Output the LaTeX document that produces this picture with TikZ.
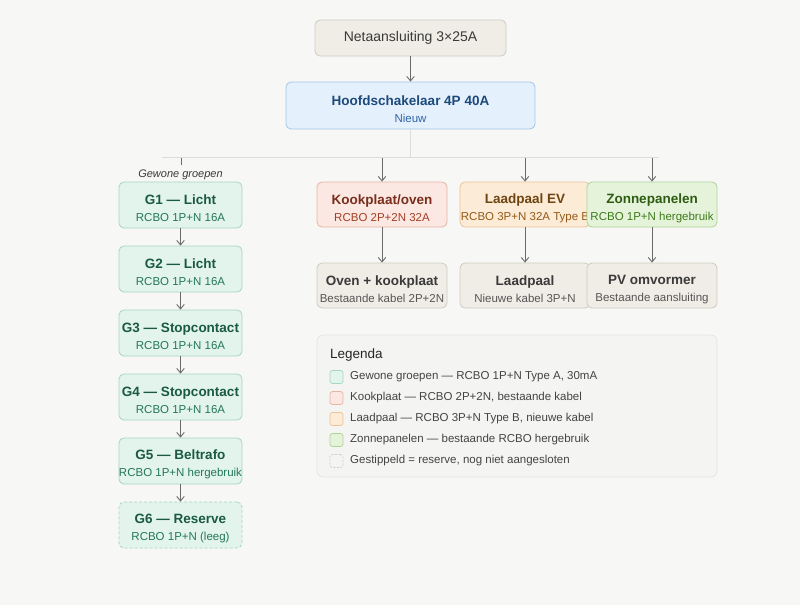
\documentclass[tikz,border=0pt]{standalone}
\usepackage{fontspec}
\setmainfont{Liberation Sans}
\usetikzlibrary{arrows.meta}
\definecolor{bg}{HTML}{F7F7F5}
\definecolor{grayfill}{HTML}{F0EDE6}
\definecolor{graydraw}{HTML}{CFCBC2}
\definecolor{graytext}{HTML}{3A3A3A}
\definecolor{graysub}{HTML}{555555}
\definecolor{bluefill}{HTML}{E4F0FB}
\definecolor{bluedraw}{HTML}{A3C6E8}
\definecolor{bluetext}{HTML}{1D4A7C}
\definecolor{bluesub}{HTML}{2E64A6}
\definecolor{grnfill}{HTML}{E2F4EC}
\definecolor{grndraw}{HTML}{A6D6C0}
\definecolor{grntext}{HTML}{1B5A42}
\definecolor{grnsub}{HTML}{23775A}
\definecolor{redfill}{HTML}{FBE8E3}
\definecolor{reddraw}{HTML}{E9B3A5}
\definecolor{redtext}{HTML}{7A2E1C}
\definecolor{redsub}{HTML}{A53E24}
\definecolor{orgfill}{HTML}{FCEBD7}
\definecolor{orgdraw}{HTML}{EBC397}
\definecolor{orgtext}{HTML}{6E4512}
\definecolor{orgsub}{HTML}{955A15}
\definecolor{limfill}{HTML}{E6F3DB}
\definecolor{limdraw}{HTML}{ACD495}
\definecolor{limtext}{HTML}{2E5C12}
\definecolor{limsub}{HTML}{3C7A19}
\definecolor{arrowc}{HTML}{6B6B6B}
\definecolor{busc}{HTML}{DCDCDA}
\definecolor{legfill}{HTML}{F4F4F2}
\definecolor{legdraw}{HTML}{E4E4E1}
\newcommand\ttl[1]{{\fontsize{13.5}{17}\selectfont\bfseries\rule{0pt}{16.5pt}#1}}
\newcommand\sbt[1]{{\fontsize{11.5}{17}\selectfont #1}}
\begin{document}
\begin{tikzpicture}[x=1pt,y=-1pt,
  box/.style={rounded corners=5pt, line width=0.8pt, align=center, inner sep=0pt,
    font=\fontsize{12}{17}\selectfont},
  gbox/.style={box, fill=grnfill, draw=grndraw, minimum width=123, minimum height=46},
  gray/.style={box, fill=grayfill, draw=graydraw},
  arr/.style={draw=arrowc, line width=0.9pt, -{Straight Barb[length=4.5pt,width=7.5pt]}},
  bus/.style={draw=busc, line width=1.6pt},
  sw/.style={rounded corners=2.5pt, line width=0.7pt, minimum width=13, minimum height=13, inner sep=0pt},
  legtxt/.style={anchor=west, font=\fontsize{11.5}{14}\selectfont, text=graysub!80!black, inner sep=0pt}
]
\fill[bg] (0,0) rectangle (800,605);
\useasboundingbox (0,0) rectangle (800,605);

% top
\node[gray, minimum width=191, minimum height=36] (net) at (410.5,38)
  {\textcolor{graytext}{{\fontsize{14}{17}\selectfont Netaansluiting 3×25A}}};
\node[box, fill=bluefill, draw=bluedraw, minimum width=249, minimum height=47] (hoofd) at (410.5,105.5)
  {\textcolor{bluetext}{\ttl{Hoofdschakelaar 4P 40A}}\\\textcolor{bluesub}{\sbt{Nieuw}}};
\draw[arr] (net) -- (hoofd);

% busbar
\coordinate (busL) at (162,157.5);
\coordinate (busR) at (659,157.5);
\draw[bus] (busL) -- (busR);
\draw[bus, line width=1pt] (hoofd.south) -- (hoofd.south |- busL);

% group column
\node[gbox] (g1) at (180.5,205) {\textcolor{grntext}{\ttl{G1 — Licht}}\\\textcolor{grnsub}{\sbt{RCBO 1P+N 16A}}};
\node[gbox] (g2) at (180.5,269) {\textcolor{grntext}{\ttl{G2 — Licht}}\\\textcolor{grnsub}{\sbt{RCBO 1P+N 16A}}};
\node[gbox] (g3) at (180.5,333) {\textcolor{grntext}{\ttl{G3 — Stopcontact}}\\\textcolor{grnsub}{\sbt{RCBO 1P+N 16A}}};
\node[gbox] (g4) at (180.5,397) {\textcolor{grntext}{\ttl{G4 — Stopcontact}}\\\textcolor{grnsub}{\sbt{RCBO 1P+N 16A}}};
\node[gbox] (g5) at (180.5,461) {\textcolor{grntext}{\ttl{G5 — Beltrafo}}\\\textcolor{grnsub}{\sbt{RCBO 1P+N hergebruik}}};
\node[gbox, dashed, dash pattern=on 3pt off 2pt] (g6) at (180.5,525) {\textcolor{grntext}{\ttl{G6 — Reserve}}\\\textcolor{grnsub}{\sbt{RCBO 1P+N (leeg)}}};
\foreach \a/\b in {g1/g2,g2/g3,g3/g4,g4/g5,g5/g6} \draw[arr] (\a) -- (\b);

\coordinate (tickT) at (181,158);
\coordinate (tickB) at (181,165);
\draw[draw=arrowc, line width=0.9pt] (tickT) -- (tickB);
\node[font=\fontsize{11}{13}\selectfont\itshape, text=graytext, inner sep=0pt] (gewone) at (180.5,175) {Gewone groepen};

% special circuits
\node[box, fill=redfill, draw=reddraw, minimum width=130, minimum height=45] (kook) at (382,204.5)
  {\textcolor{redtext}{\ttl{Kookplaat/oven}}\\\textcolor{redsub}{\sbt{RCBO 2P+2N 32A}}};
\node[box, fill=orgfill, draw=orgdraw, minimum width=130, minimum height=45] (laad) at (525,204.5)
  {\textcolor{orgtext}{\ttl{Laadpaal EV}}\\\textcolor{orgsub}{\sbt{RCBO 3P+N 32A Type B}}};
\node[box, fill=limfill, draw=limdraw, minimum width=130, minimum height=45] (zon) at (652,204.5)
  {\textcolor{limtext}{\ttl{Zonnepanelen}}\\\textcolor{limsub}{\sbt{RCBO 1P+N hergebruik}}};

\draw[arr] (kook.north |- busL) -- (kook.north);
\draw[arr] (laad.north |- busL) -- (laad.north);
\draw[arr] (zon.north |- busL) -- (zon.north);

\node[gray, minimum width=130, minimum height=45] (oven) at (382,285.5)
  {\textcolor{graytext}{\ttl{Oven + kookplaat}}\\\textcolor{graysub}{\sbt{Bestaande kabel 2P+2N}}};
\node[gray, minimum width=130, minimum height=45] (lp) at (525,285.5)
  {\textcolor{graytext}{\ttl{Laadpaal}}\\\textcolor{graysub}{\sbt{Nieuwe kabel 3P+N}}};
\node[gray, minimum width=130, minimum height=45] (pv) at (652,285.5)
  {\textcolor{graytext}{\ttl{PV omvormer}}\\\textcolor{graysub}{\sbt{Bestaande aansluiting}}};
\draw[arr] (kook) -- (oven);
\draw[arr] (laad) -- (lp);
\draw[arr] (zon) -- (pv);

% legend
\node[rounded corners=6pt, fill=legfill, draw=legdraw, line width=0.7pt, minimum width=400, minimum height=142, inner sep=0pt] (leg) at (517,406) {};
\node[anchor=west, inner sep=0pt, font=\fontsize{13.5}{16}\selectfont, text=black!85] (legt) at (330,355) {Legenda};
\node[sw, fill=grnfill, draw=grndraw] (s1) at (336.5,377) {};
\node[sw, fill=redfill, draw=reddraw] (s2) at (336.5,398) {};
\node[sw, fill=orgfill, draw=orgdraw] (s3) at (336.5,419) {};
\node[sw, fill=limfill, draw=limdraw] (s4) at (336.5,440) {};
\node[sw, fill=legfill, draw=legdraw!90!black, dashed, dash pattern=on 2pt off 1.5pt] (s5) at (336.5,461) {};
\node[legtxt] (l1) at (350,377) {Gewone groepen — RCBO 1P+N Type A, 30mA};
\node[legtxt] (l2) at (350,398) {Kookplaat — RCBO 2P+2N, bestaande kabel};
\node[legtxt] (l3) at (350,419) {Laadpaal — RCBO 3P+N Type B, nieuwe kabel};
\node[legtxt] (l4) at (350,440) {Zonnepanelen — bestaande RCBO hergebruik};
\node[legtxt] (l5) at (350,461) {Gestippeld = reserve, nog niet aangesloten};
\end{tikzpicture}
\end{document}
